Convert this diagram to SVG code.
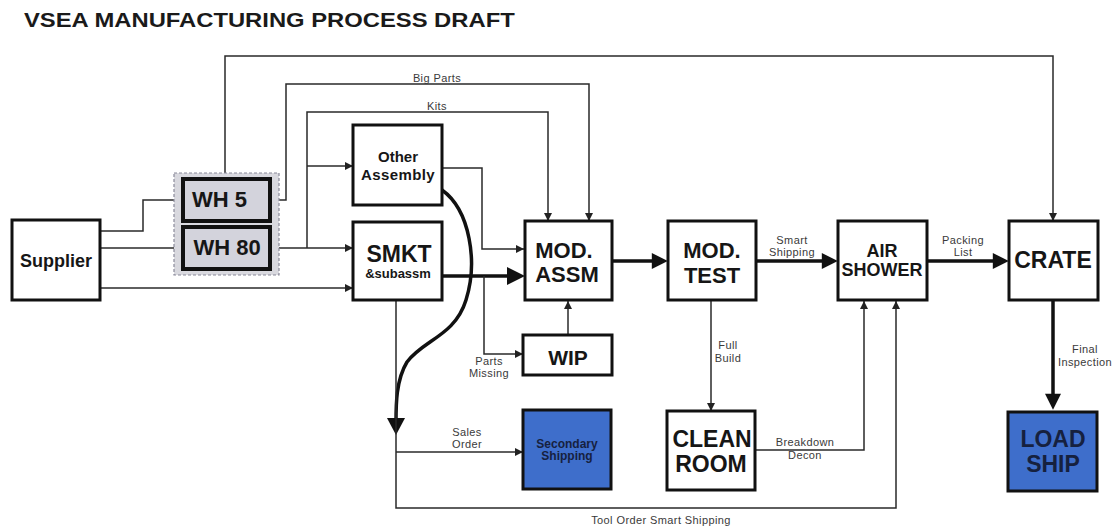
<svg xmlns="http://www.w3.org/2000/svg" width="1117" height="529" viewBox="0 0 1117 529">
<defs>
<marker id="a" viewBox="0 0 10 10" refX="10" refY="5" markerUnits="userSpaceOnUse" markerWidth="9" markerHeight="8" orient="auto"><path d="M0,0 L10,5 L0,10 z" fill="#222"/></marker>
<marker id="b" viewBox="0 0 10 10" refX="7" refY="5" markerUnits="userSpaceOnUse" markerWidth="18" markerHeight="16" orient="auto"><path d="M0,0 L10,5 L0,10 z" fill="#111"/></marker>
</defs>
<style>
.box{fill:#fff;stroke:#111;stroke-width:3}
.wh{fill:#d3d3dc;stroke:#111;stroke-width:4}
.blue{fill:#3e6ecb;stroke:#111;stroke-width:3}
.t{font-family:"Liberation Sans",Arial,sans-serif;font-weight:bold;fill:#161616;text-anchor:middle}
.tb{font-family:"Liberation Sans",Arial,sans-serif;font-weight:bold;fill:#16213f;text-anchor:middle}
.l{font-family:"Liberation Sans",Arial,sans-serif;font-size:11px;letter-spacing:0.4px;fill:#3a3a3a;text-anchor:middle}
.c{fill:none;stroke:#2a2a2a;stroke-width:1.5}
.k{fill:none;stroke:#111;stroke-width:3.5}
</style>
<rect width="1117" height="529" fill="#fff"/>
<text transform="translate(24,27) scale(1.19,1)" font-family="Liberation Sans,Arial,sans-serif" font-weight="bold" font-size="20" fill="#1a1a1a">VSEA MANUFACTURING PROCESS DRAFT</text>

<g id="connectors">
<path class="c" d="M225,173 V56 H1053 V221" marker-end="url(#a)"/>
<path class="c" d="M270,200 H286 V84 H589 V221" marker-end="url(#a)"/>
<path class="c" d="M270,248 H353" marker-end="url(#a)"/>
<path class="c" d="M307,248 V112 H548 V221" marker-end="url(#a)"/>
<path class="c" d="M307,166 H353" marker-end="url(#a)"/>
<path class="c" d="M100,231 H143 V200 H183" marker-end="url(#a)"/>
<path class="c" d="M100,248 H183" marker-end="url(#a)"/>
<path class="c" d="M100,288 H353" marker-end="url(#a)"/>
<path class="c" d="M442,168 H482 V249 H524" marker-end="url(#a)"/>
<path class="k" d="M442,276 H519"/>
<path d="M507,267 L525,276 L507,285 z" fill="#111"/>
<path class="c" d="M484,276 V354 H523" marker-end="url(#a)"/>
<path class="c" d="M568,335 V301" marker-end="url(#a)"/>
<path class="k" d="M442,190 C470,210 478,262 466,300 C455,336 423,340 407,362 C396,380 396,405 396,422"/>
<path d="M387,418 L405,418 L396,435 z" fill="#111"/>
<path class="c" d="M396,300 V508 H896 V301" marker-end="url(#a)"/>
<path class="c" d="M396,452 H523" marker-end="url(#a)"/>
<path class="k" d="M612,261 H663" marker-end="url(#b)"/>
<path class="k" d="M756,261 H833" marker-end="url(#b)"/>
<path class="k" d="M927,261 H1004" marker-end="url(#b)"/>
<path class="c" d="M711,300 V411" marker-end="url(#a)"/>
<path class="c" d="M755,450 H864 V301" marker-end="url(#a)"/>
<path class="k" d="M1053,300 V405" marker-end="url(#b)"/>
</g>

<g id="labels">
<text class="l" x="437" y="82">Big Parts</text>
<text class="l" x="437" y="110">Kits</text>
<text class="l" x="489" y="365">Parts</text>
<text class="l" x="489" y="377">Missing</text>
<text class="l" x="467" y="436">Sales</text>
<text class="l" x="467" y="448">Order</text>
<text class="l" x="792" y="244">Smart</text>
<text class="l" x="792" y="256">Shipping</text>
<text class="l" x="963" y="244">Packing</text>
<text class="l" x="963" y="256">List</text>
<text class="l" x="728" y="349">Full</text>
<text class="l" x="728" y="362">Build</text>
<text class="l" x="805" y="446">Breakdown</text>
<text class="l" x="805" y="459">Decon</text>
<text class="l" x="1085" y="353">Final</text>
<text class="l" x="1085" y="366">Inspection</text>
<text class="l" x="661" y="524" font-size="11.5">Tool Order Smart Shipping</text>
</g>

<g id="supplier"><rect class="box" x="12" y="220" width="88" height="80"/><text class="t" x="56" y="267" font-size="18">Supplier</text></g>
<g id="wh-group"><rect x="174" y="173" width="105" height="102" fill="#d9d9df" stroke="#8a8a9a" stroke-width="1.2" stroke-dasharray="3,2"/></g>
<g id="wh5"><rect class="wh" x="183" y="179" width="87" height="42"/><text class="t" x="192" y="207" font-size="22" style="text-anchor:start">WH 5</text></g>
<g id="wh80"><rect class="wh" x="183" y="227" width="87" height="42"/><text class="t" x="227" y="255" font-size="22">WH 80</text></g>
<g id="other"><rect class="box" x="353" y="125" width="89" height="80"/><text class="t" x="398" y="162" font-size="15">Other</text><text class="t" x="398" y="180" font-size="15" letter-spacing="0.4">Assembly</text></g>
<g id="smkt"><rect class="box" x="353" y="222" width="89" height="78"/><text class="t" x="399" y="262" font-size="23">SMKT</text><text class="t" x="398" y="278" font-size="13">&amp;subassm</text></g>
<g id="modassm"><rect class="box" x="525" y="221" width="87" height="79"/><text class="t" x="564" y="258" font-size="22">MOD.</text><text class="t" x="567" y="282" font-size="22">ASSM</text></g>
<g id="wip"><rect class="box" x="523" y="335" width="89" height="40"/><text class="t" x="568" y="365" font-size="21">WIP</text></g>
<g id="secondary"><rect class="blue" x="523" y="410" width="88" height="79"/><text class="tb" x="567" y="448" font-size="12">Secondary</text><text class="tb" x="567" y="460" font-size="12">Shipping</text></g>
<g id="modtest"><rect class="box" x="668" y="221" width="88" height="79"/><text class="t" x="712" y="258" font-size="22">MOD.</text><text class="t" x="712" y="283" font-size="22">TEST</text></g>
<g id="clean"><rect class="box" x="667" y="411" width="88" height="79"/><text class="t" x="712" y="447" font-size="23">CLEAN</text><text class="t" x="711" y="472" font-size="23">ROOM</text></g>
<g id="airshower"><rect class="box" x="838" y="221" width="89" height="79"/><text class="t" x="882" y="257" font-size="18">AIR</text><text class="t" x="882" y="276" font-size="18">SHOWER</text></g>
<g id="crate"><rect class="box" x="1009" y="221" width="89" height="79"/><text class="t" x="1053" y="268" font-size="23">CRATE</text></g>
<g id="loadship"><rect class="blue" x="1008" y="412" width="89" height="79"/><text class="tb" x="1053" y="447" font-size="23">LOAD</text><text class="tb" x="1053" y="472" font-size="23">SHIP</text></g>
</svg>
